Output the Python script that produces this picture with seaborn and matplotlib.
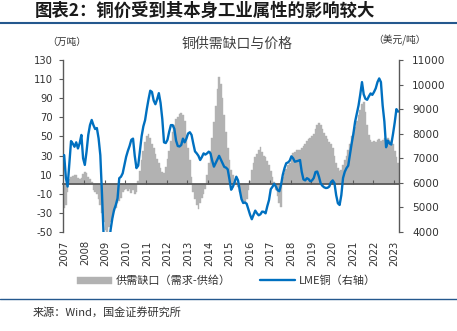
import numpy as np
import pandas as pd
import matplotlib
matplotlib.use("Agg")
import matplotlib.pyplot as plt
import seaborn as sns
from matplotlib.lines import Line2D

# ---------------- data (monthly, Jan 2007 - Mar 2023) ----------------
years = list(range(2007, 2024))
year_labels = [str(y) for y in years]

gap = [
    -25, -22, -8, 5, 8, 9, 10, 10, 6, 5, 6, 11,
    13, 12, 8, 5, 2, -6, -8, -10, -15, -22, -30, -40,
    -48, -52, -45, -40, -35, -28, -25, -20, -18, -14, -8, -6,
    -5, -7, -5, -9, -6, -10, -8, 3, 14, 25, 35, 44,
    50, 53, 48, 42, 38, 32, 26, 22, 17, 13, 12, 18,
    26, 35, 45, 55, 62, 68, 70, 74, 75, 72, 66, 52,
    38, 25, 8, -8, -15, -22, -26, -20, -14, -10, -5, 10,
    22, 35, 48, 65, 82, 100, 112, 105, 90, 72, 55, 38,
    25, 15, 10, 5, 2, -3, -8, -14, -18, -20, -15, -6,
    3, 15, 22, 28, 32, 36, 39, 34, 30, 28, 24, 20,
    14, 8, 2, -6, -12, -20, -24, 8, 12, 16, 20, 22,
    28, 33, 34, 36, 36, 36, 38, 40, 42, 45, 47, 48,
    50, 53, 58, 62, 64, 62, 58, 54, 50, 47, 44, 42,
    38, 30, 22, 17, 14, 15, 20, 25, 30, 36, 42, 50,
    55, 60, 66, 72, 78, 84, 86, 76, 62, 52, 46, 44,
    45, 44, 46, 47, 45, 46, 48, 47, 48, 46, 45, 42,
    35, 28, 22,
]

price = [
    7130, 6200, 5850, 6800, 7700, 7600, 7470, 7650, 7400, 7610, 7950, 7000,
    6730, 7270, 7950, 8350, 8560, 8350, 8190, 8230, 7810, 7130, 5500, 3700,
    3100, 3200, 3500, 4100, 4560, 4900, 5100, 5370, 6190, 6250, 6390, 6730,
    7060, 7300, 7500, 7750, 7800, 7100, 6600, 6700, 7300, 7900, 8300, 8550,
    9000, 9400, 9750, 9700, 9350, 9200, 9400, 9650, 9250, 8600, 7650, 7620,
    7750, 8080, 8350, 8350, 8200, 7720, 7500, 7480, 7540, 7800, 7650, 7800,
    8010, 8060, 7950, 7600, 7280, 7200, 7100, 6930, 7050, 7200, 7150, 7200,
    7270, 7200, 6900, 6660, 6800, 6950, 7100, 6950, 6800, 6650, 6620, 6550,
    6150, 5720, 5840, 6020, 6250, 6100, 5700, 5340, 5180, 5200, 5150, 4930,
    4700, 4520, 4700, 4870, 4760, 4680, 4720, 4830, 4820, 4760, 5050, 5300,
    5740, 5840, 5960, 5850, 5700, 5660, 5930, 6330, 6600, 6800, 6830, 6900,
    7080, 7000, 6860, 6880, 6900, 6930, 6450, 6140, 6100, 6190, 6150, 6060,
    6100, 6200, 6440, 6460, 6250, 5980, 5880, 5820, 5790, 5800, 5850, 6030,
    6100, 5990, 5500, 5170, 5100, 5500, 6200, 6450, 6600, 6700, 7150, 7600,
    8000, 8490, 8830, 9150, 9600, 10100, 9600, 9420, 9380, 9520, 9640, 9580,
    9700, 9850, 10100, 10250, 10100, 9150, 8500, 7450, 7720, 7600, 7560, 7980,
    8450, 9000, 8900,
]

left_ticks = list(range(-50, 131, 20))
right_ticks = list(range(4000, 11001, 1000))

title = "图表2：铜价受到其本身工业属性的影响较大"
chart_title = "铜供需缺口与价格"
left_unit = "（万吨）"
right_unit = "（美元/吨）"
legend_labels = ["供需缺口（需求-供给）", "LME铜（右轴）"]
source = "来源：Wind，国金证券研究所"

# ---------------- style ----------------
sns.set_theme(style="white")
plt.rcParams["font.family"] = ["Noto Sans CJK SC", "DejaVu Sans"]
plt.rcParams["axes.unicode_minus"] = False

BAR_C = "#b2b2b2"
LINE_C = "#0070c0"
AX_C = "#595959"
TXT_C = "#333333"
RULE_C = "#24588e"

df = pd.DataFrame({"m": np.arange(len(gap)), "gap": gap, "price": price})

W, H = 457, 331
fig = plt.figure(figsize=(W / 100, H / 100), dpi=100)
ax = fig.add_axes([63.3 / W, 1 - 232 / H, (399 - 63.3) / W, 172 / H])

sns.barplot(data=df, x="m", y="gap", color=BAR_C, saturation=1, width=1.0,
            native_scale=True, errorbar=None, linewidth=0.3,
            edgecolor=BAR_C, ax=ax)

ax2 = ax.twinx()
sns.lineplot(data=df, x="m", y="price", color=LINE_C, lw=1.7, ax=ax2)

n = len(gap)
ax.set_xlim(-0.5, n - 0.5)
ax.set_ylim(-50, 130)
ax2.set_ylim(4000, 11000)
ax.set_yticks(left_ticks)
ax2.set_yticks(right_ticks)
ax.set_xticks([12 * i for i in range(len(years))])
ax.set_xticklabels(year_labels, rotation=90)
for a in (ax, ax2):
    a.set_xlabel("")
    a.set_ylabel("")

# spines
for s in ("top", "right", "bottom"):
    ax.spines[s].set_visible(False)
ax.spines["left"].set_color(AX_C)
ax.spines["left"].set_linewidth(1.0)
for s in ("top", "left", "bottom"):
    ax2.spines[s].set_visible(False)
ax2.spines["right"].set_color(AX_C)
ax2.spines["right"].set_linewidth(1.0)

ax.tick_params(axis="y", left=True, direction="out", length=3, width=0.8,
               color=AX_C, labelsize=7.2, labelcolor=TXT_C, pad=4.5)
ax2.tick_params(axis="y", right=True, direction="out", length=3, width=0.8,
                color=AX_C, labelsize=7.6, labelcolor=TXT_C, pad=6.5)
ax.tick_params(axis="x", bottom=False, length=0, labelsize=7.2,
               labelcolor=TXT_C, pad=6)
for lab in ax.get_yticklabels() + ax2.get_yticklabels() + ax.get_xticklabels():
    lab.set_fontfamily("DejaVu Sans")

# zero line with year tick marks
sec = ax.secondary_xaxis(50 / 180)
sec.set_xticks([12 * i - 0.5 for i in range(1, len(years))])
sec.tick_params(axis="x", bottom=True, direction="in", length=3, width=0.8,
                color=AX_C, labelbottom=False)
sec.spines["bottom"].set_color(AX_C)
sec.spines["bottom"].set_linewidth(1.3)
sec.set_zorder(5)

# legend
fig.legend(handles=[ax.containers[0], ax2.lines[0]], labels=legend_labels,
           loc="center", bbox_to_anchor=(0.495, 1 - 281 / H), ncol=2,
           frameon=False, fontsize=8, handlelength=3.2, handletextpad=0.3,
           columnspacing=2.6, labelcolor=TXT_C)

# texts
fig.text(35 / W, 1 - 11 / H, title, fontsize=12.5, fontweight="bold",
         style="italic", color="#1a1a1a", ha="left", va="center")
fig.text(237.5 / W, 1 - 44 / H, chart_title, fontsize=10, color="#404040",
         ha="center", va="center")
fig.text(66.7 / W, 1 - 42 / H, left_unit, fontsize=7, color=TXT_C,
         ha="center", va="center")
fig.text(400 / W, 1 - 40 / H, right_unit, fontsize=7, color=TXT_C,
         ha="center", va="center")
fig.text(33 / W, 1 - 312 / H, source, fontsize=8, color=TXT_C,
         ha="left", va="center")

fig.add_artist(Line2D([0, 1], [1 - 22.5 / H, 1 - 22.5 / H],
                      transform=fig.transFigure, color=RULE_C, lw=1.5))
fig.add_artist(Line2D([0, 1], [1 - 298.5 / H, 1 - 298.5 / H],
                      transform=fig.transFigure, color=RULE_C, lw=1.0))

fig.savefig("out.png", dpi=100)
